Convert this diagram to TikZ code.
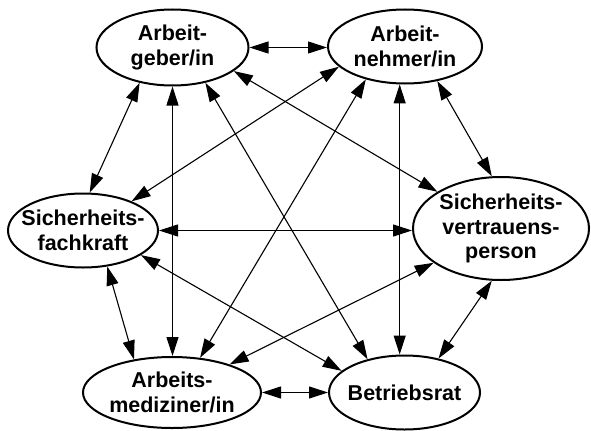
\documentclass[tikz,border=0pt]{standalone}
\usepackage{fontspec}
\setmainfont{Liberation Sans}
\usetikzlibrary{shapes.geometric,arrows.meta}
\begin{document}
\begin{tikzpicture}[x=1bp,y=1bp,
  ell/.style={draw=black,line width=2bp,ellipse,inner sep=0pt},
  lbl/.style={align=center,inner sep=0pt,font=\bfseries\fontsize{21.5bp}{24.5bp}\selectfont},
  con/.style={line width=1.1bp,{Triangle[length=19bp,width=12bp]}-{Triangle[length=19bp,width=12bp]}}]
\fill[white] (0,0) rectangle (591,430);
\useasboundingbox (0,0) rectangle (591,430);
% ellipses
\node[ell,minimum width=152bp,minimum height=76bp] (AG) at (172.5,382.5) {};
\node[ell,minimum width=154bp,minimum height=74bp] (AN) at (405,383.5) {};
\node[ell,minimum width=150bp,minimum height=74bp] (SF) at (83,199.5) {};
\node[ell,minimum width=176bp,minimum height=103bp] (SV) at (501,201.5) {};
\node[ell,minimum width=178bp,minimum height=71bp] (AM) at (172,37.5) {};
\node[ell,minimum width=151bp,minimum height=74bp] (BR) at (404.5,37.5) {};
% labels
\node[lbl] (AGt) at (AG) {Arbeit-\\geber/in};
\node[lbl] (ANt) at (AN) {Arbeit-\\nehmer/in};
\node[lbl] (SFt) at (SF) {Sicherheits-\\fachkraft};
\node[lbl] (SVt) at (SV) {Sicherheits-\\vertrauens-\\person};
\node[lbl] (AMt) at (AM) {Arbeits-\\mediziner/in};
\node[lbl] (BRt) at (BR) {Betriebsrat};
% connectors
\draw[con] (AG.east) -- (AG.east -| AN.west);
\draw[con] (AG.227) -- (SF.80);
\draw[con] (AG.south) -- (AG.south |- AM.north);
\draw[con] (AG.-47) -- (BR.138);
\draw[con] (AG.-21.5) -- (SV.150);
\draw[con] (AN.197) -- (SF.31);
\draw[con] (AN.220) -- (AM.51);
\draw[con] (AN.262) -- (AN.262 |- BR.north);
\draw[con] (AN.-47) -- (SV.100);
\draw[con] (SF.east) -- (SF.east -| SV.west);
\draw[con] (SF.-56) -- (AM.139);
\draw[con] (SF.-23) -- (BR.161);
\draw[con] (SV.207) -- (AM.26);
\draw[con] (SV.260) -- (BR.45);
\draw[con] (AM.east) -- (AM.east -| BR.west);
\end{tikzpicture}
\end{document}
